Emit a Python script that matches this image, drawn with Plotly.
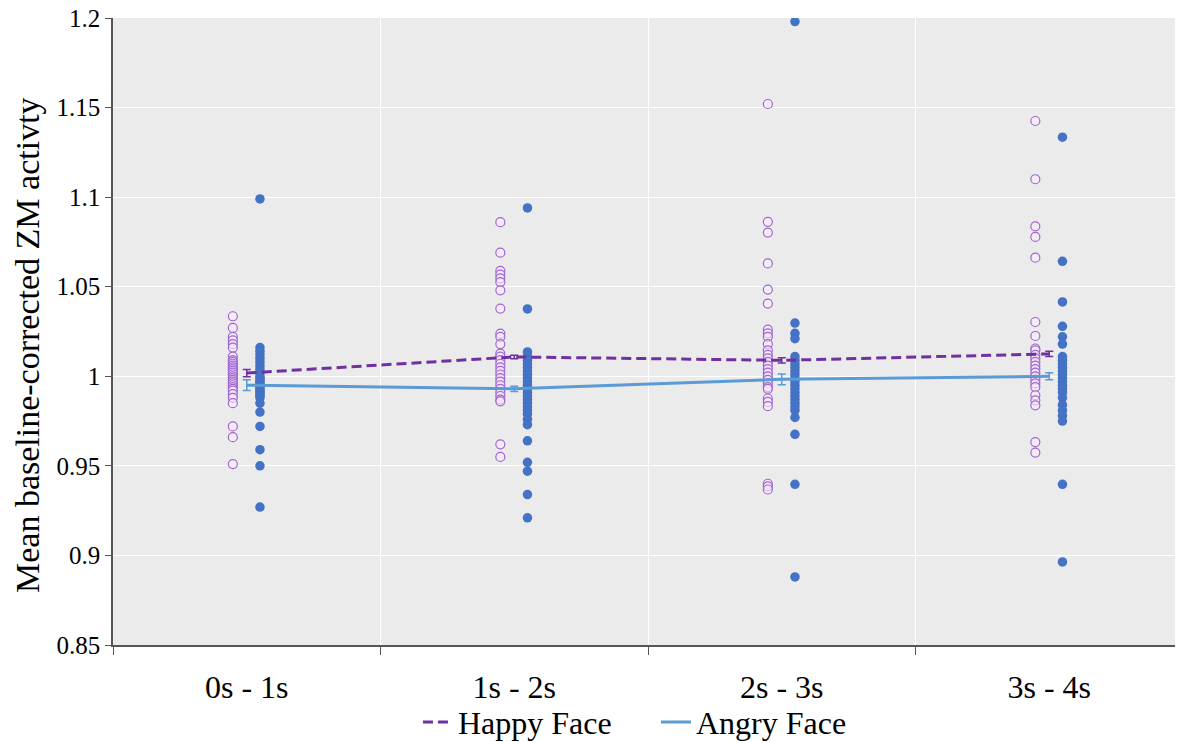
import plotly.graph_objects as go

categories = ["0s - 1s", "1s - 2s", "2s - 3s", "3s - 4s"]

happy_points = [
    [1.0335, 1.027, 1.022, 1.020, 1.018, 1.016, 1.011, 1.009, 1.008, 1.007, 1.006, 1.005, 1.004,
     1.003, 1.002, 1.001, 1.000, 0.999, 0.998, 0.997, 0.996, 0.995, 0.994, 0.993, 0.992, 0.990,
     0.988, 0.985, 0.972, 0.966, 0.951],
    [1.086, 1.069, 1.0588, 1.0567, 1.0547, 1.0526, 1.048, 1.0378, 1.0238, 1.022, 1.018, 1.0127,
     1.011, 1.009, 1.007, 1.005, 1.003, 1.001, 0.999, 0.997, 0.995, 0.993, 0.991, 0.989, 0.987,
     0.986, 0.962, 0.955],
    [1.152, 1.0862, 1.0802, 1.063, 1.0484, 1.0406, 1.026, 1.024, 1.022, 1.018, 1.0145, 1.012,
     1.010, 1.008, 1.006, 1.004, 1.002, 1.000, 0.998, 0.996, 0.994, 0.993, 0.9876, 0.9857,
     0.9833, 0.940, 0.9386, 0.9368],
    [1.1425, 1.110, 1.0837, 1.0778, 1.0662, 1.0303, 1.0225, 1.0155, 1.0145, 1.012, 1.010, 1.008,
     1.006, 1.004, 1.002, 1.000, 0.998, 0.996, 0.994, 0.9894, 0.9866, 0.9838, 0.9633, 0.9574],
]

angry_points = [
    [1.099, 1.016, 1.014, 1.012, 1.010, 1.008, 1.006, 1.004, 1.002, 1.000, 0.999, 0.998, 0.997,
     0.996, 0.995, 0.994, 0.993, 0.992, 0.991, 0.990, 0.989, 0.988, 0.985, 0.980, 0.972, 0.959,
     0.950, 0.927],
    [1.094, 1.0376, 1.0136, 1.011, 1.009, 1.007, 1.005, 1.003, 1.001, 0.999, 0.997, 0.995, 0.993,
     0.991, 0.989, 0.987, 0.985, 0.983, 0.981, 0.979, 0.976, 0.973, 0.964, 0.952, 0.947, 0.934,
     0.921],
    [1.198, 1.0297, 1.024, 1.021, 1.011, 1.009, 1.007, 1.005, 1.003, 1.001, 0.999, 0.997, 0.995,
     0.993, 0.991, 0.989, 0.987, 0.985, 0.983, 0.981, 0.977, 0.9676, 0.9397, 0.888],
    [1.1335, 1.0642, 1.0415, 1.0279, 1.022, 1.018, 1.011, 1.009, 1.007, 1.005, 1.003, 1.001,
     0.999, 0.997, 0.995, 0.993, 0.991, 0.988, 0.984, 0.981, 0.978, 0.975, 0.9397, 0.8964],
]

happy_mean = [1.0018, 1.0108, 1.0089, 1.0125]
happy_err = [0.002, 0.001, 0.0015, 0.0015]
angry_mean = [0.995, 0.993, 0.9983, 1.000]
angry_err = [0.003, 0.0015, 0.003, 0.002]

y_ticks = [0.85, 0.9, 0.95, 1.0, 1.05, 1.1, 1.15, 1.2]
y_ticktext = ["0.85", "0.9", "0.95", "1", "1.05", "1.1", "1.15", "1.2"]
y_title = "Mean baseline-corrected ZM activty"

HAPPY_COL = "#7030A0"
HAPPY_PT = "#A066D0"
ANGRY_COL = "#5B9BD5"
ANGRY_PT = "#4472C4"
FONT = "Liberation Serif, Times New Roman, serif"

centers = [i + 0.5 for i in range(len(categories))]
off = 0.052

fig = go.Figure()

hx, hy, ax_, ay = [], [], [], []
for i, c in enumerate(centers):
    hx += [c - off] * len(happy_points[i])
    hy += happy_points[i]
    ax_ += [c + off * 0.95] * len(angry_points[i])
    ay += angry_points[i]

fig.add_trace(go.Scatter(
    x=hx, y=hy, mode="markers", showlegend=False,
    marker=dict(symbol="circle", size=9, color="rgba(248,235,252,0.6)",
                line=dict(color=HAPPY_PT, width=1.2)),
))
fig.add_trace(go.Scatter(
    x=ax_, y=ay, mode="markers", showlegend=False,
    marker=dict(symbol="circle", size=9.5, color=ANGRY_PT, line=dict(width=0)),
))

fig.add_trace(go.Scatter(
    x=centers, y=happy_mean, mode="lines", name="Happy Face",
    line=dict(color=HAPPY_COL, width=3, dash="10px,5px"),
    error_y=dict(type="data", array=happy_err, color=HAPPY_COL, thickness=1.5, width=4),
))
fig.add_trace(go.Scatter(
    x=centers, y=angry_mean, mode="lines", name="Angry Face",
    line=dict(color=ANGRY_COL, width=3),
    error_y=dict(type="data", array=angry_err, color=ANGRY_COL, thickness=1.5, width=4),
))

fig.add_annotation(
    text=y_title, textangle=-90, xref="paper", yref="paper",
    x=-0.0794, y=0.4785, xanchor="center", yanchor="middle", showarrow=False,
    font=dict(size=34, family=FONT, color="black"),
)

fig.update_layout(
    width=1175, height=734,
    margin=dict(l=105, r=0, t=10, b=97, autoexpand=False),
    paper_bgcolor="white",
    plot_bgcolor="#EBEBEB",
    font=dict(family=FONT, color="black"),
    showlegend=True,
    legend=dict(orientation="h", x=0.285, xanchor="left", y=-0.123, yanchor="middle",
                font=dict(size=32, family=FONT), bgcolor="rgba(0,0,0,0)",
                itemwidth=30, tracegroupgap=0, entrywidth=193, entrywidthmode="pixels"),
    xaxis=dict(
        range=[0, 4], tickmode="array", tickvals=centers, ticktext=categories,
        ticks="", showgrid=False, zeroline=False, automargin=False,
        showline=True, linecolor="#555555", linewidth=1.5,
        tickfont=dict(size=32, family=FONT), ticklabelstandoff=13,
        minor=dict(tickmode="array", tickvals=[0, 1, 2, 3, 4], ticks="outside", ticklen=8,
                   tickcolor="#555555", showgrid=True, gridcolor="white", gridwidth=1),
    ),
    yaxis=dict(
        range=[0.85, 1.2], tickmode="array", tickvals=y_ticks, ticktext=y_ticktext,
        ticks="outside", ticklen=6, tickcolor="#555555", automargin=False,
        ticklabeloverflow="allow",
        showgrid=True, gridcolor="white", gridwidth=1, zeroline=False,
        showline=True, linecolor="#555555", linewidth=1.5,
        tickfont=dict(size=25, family=FONT),
    ),
)

fig.write_html("out.html")
